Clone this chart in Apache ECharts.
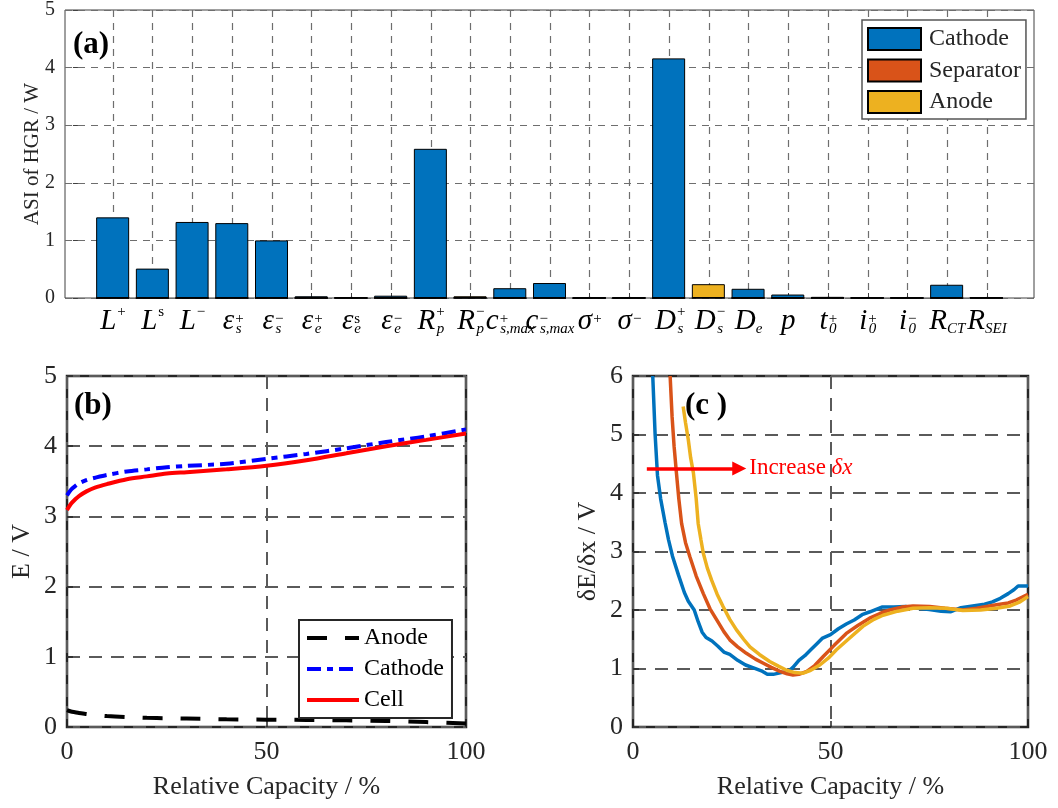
<!DOCTYPE html>
<html>
<head>
<meta charset="utf-8">
<title>ASI of HGR / dE/dx</title>
<script src="https://cdn.jsdelivr.net/npm/echarts@6.0.0/dist/echarts.min.js"></script>
<style>
  html, body { margin: 0; padding: 0; background: #fff; }
  #chart { width: 1058px; height: 808px; }
</style>
</head>
<body>
<div id="chart"></div>
<script>
// (a) parameters: base symbol, superscript, subscript
const paramBase = ['L', 'L', 'L', 'ε', 'ε', 'ε', 'ε', 'ε', 'R', 'R', 'c', 'c', 'σ', 'σ', 'D', 'D', 'D', 'p', 't', 'i', 'i', 'R', 'R'];
const paramSup  = ['+', 's', '−', '+', '−', '+', 's', '−', '+', '−', '+', '−', '+', '−', '+', '−', '', '', '+', '+', '−', '', ''];
const paramSub  = ['', '', '', 's', 's', 'e', 'e', 'e', 'p', 'p', 's,max', 's,max', '', '', 's', 's', 'e', '', '0', '0', '0', 'CT', 'SEI'];

// ASI of HGR (W), stacked by domain
const cathodeASI   = [1.40, 0.51, 1.32, 1.30, 1.00, 0.03, 0.01, 0.04, 2.59, 0.01, 0.17, 0.26, 0.005, 0.005, 4.16, 0.02, 0.16, 0.06, 0.02, 0.005, 0.005, 0.23, 0.01];
const separatorASI = [0, 0, 0, 0, 0, 0, 0, 0, 0, 0, 0, 0, 0, 0, 0, 0, 0, 0, 0, 0, 0, 0, 0];
const anodeASI     = [0, 0, 0, 0, 0, 0, 0, 0, 0, 0.03, 0, 0, 0, 0, 0, 0.24, 0, 0, 0, 0, 0, 0, 0];

// (b) potentials vs relative capacity
const capacity  = [0, 1, 2, 3, 5, 7, 10, 15, 20, 25, 30, 40, 50, 60, 70, 80, 90, 100];
const anodeE    = [0.24, 0.22, 0.21, 0.20, 0.185, 0.17, 0.155, 0.14, 0.13, 0.125, 0.12, 0.11, 0.105, 0.10, 0.095, 0.085, 0.07, 0.05];
const cathodeE  = [3.30, 3.38, 3.43, 3.47, 3.52, 3.55, 3.59, 3.64, 3.67, 3.70, 3.72, 3.75, 3.82, 3.89, 3.97, 4.06, 4.14, 4.24];
const cellE     = [3.09, 3.18, 3.24, 3.29, 3.36, 3.41, 3.46, 3.53, 3.57, 3.61, 3.63, 3.67, 3.72, 3.80, 3.90, 4.00, 4.09, 4.18];

// (c) dE/dx for three step sizes [capacity %, V]
const slopeDx1 = [[5.0, 6.0], [5.6, 5.0], [6.2, 4.3], [7.0, 3.9], [8.1, 3.5], [9.0, 3.2], [10.0, 2.92], [11.5, 2.6], [13.0, 2.3], [14.0, 2.15],
  [15.5, 2.0], [16.5, 1.8], [17.5, 1.62], [18.5, 1.53], [20.0, 1.47], [21.5, 1.38], [23.0, 1.28], [24.5, 1.24], [26.5, 1.14], [28.5, 1.06],
  [30.5, 1.01], [32.5, 0.96], [34.0, 0.9], [35.5, 0.9], [37.5, 0.93], [39.5, 0.96], [40.5, 1.02], [42.0, 1.14], [43.5, 1.22], [45.0, 1.32],
  [46.5, 1.42], [48.0, 1.52], [50.0, 1.58], [52.0, 1.68], [54.0, 1.76], [56.0, 1.83], [58.0, 1.92], [60.0, 1.97], [63.0, 2.05], [66.0, 2.05],
  [69.0, 2.06], [72.0, 2.03], [75.0, 2.01], [78.0, 1.98], [80.5, 1.97], [83.0, 2.04], [86.0, 2.07], [89.0, 2.1], [91.0, 2.14], [93.0, 2.2],
  [95.0, 2.28], [96.5, 2.35], [97.5, 2.41], [100, 2.41]];
const slopeDx2 = [[9.4, 6.0], [9.9, 5.3], [10.4, 4.8], [11.0, 4.34], [11.6, 3.9], [12.3, 3.48], [13.3, 3.15], [14.4, 2.91], [16.0, 2.58], [17.8, 2.28],
  [19.5, 2.02], [21.2, 1.83], [23.0, 1.63], [24.5, 1.49], [26.5, 1.37], [28.7, 1.26], [31.0, 1.16], [33.0, 1.09], [35.0, 1.02], [37.2, 0.95],
  [39.0, 0.91], [40.5, 0.89], [42.0, 0.9], [44.0, 0.95], [46.0, 1.05], [48.1, 1.2], [51.0, 1.4], [54.0, 1.6], [57.0, 1.74], [59.9, 1.86],
  [62.5, 1.94], [65.0, 2.0], [68.0, 2.05], [70.9, 2.07], [75.1, 2.06], [79.0, 2.03], [83.5, 2.0], [87.0, 2.03], [92.0, 2.09], [95.0, 2.12],
  [97.0, 2.17], [100, 2.27]];
const slopeDx3 = [[12.7, 5.48], [13.3, 5.2], [14.0, 4.91], [14.6, 4.6], [15.3, 4.34], [16.0, 3.9], [16.5, 3.48], [17.2, 3.2], [17.8, 2.97], [18.8, 2.72],
  [19.9, 2.51], [21.3, 2.27], [22.8, 2.06], [24.5, 1.84], [26.2, 1.66], [28.0, 1.5], [29.6, 1.37], [32.0, 1.24], [34.6, 1.12], [36.8, 1.04],
  [38.9, 0.97], [41.0, 0.93], [43.1, 0.92], [45.0, 0.97], [47.3, 1.06], [49.5, 1.18], [51.5, 1.32], [54.5, 1.5], [58.2, 1.72], [61.0, 1.84],
  [63.3, 1.91], [67.0, 1.98], [70.9, 2.03], [75.0, 2.04], [79.3, 2.03], [83.5, 1.99], [88.0, 2.0], [92.0, 2.03], [95.5, 2.07], [98.0, 2.14],
  [100, 2.23]];

// arrow "Increase dx" in (c), data coords
const arrowFrom = [3.5, 4.42];
const arrowTo = [26.9, 4.42];

const serif = '"Liberation Serif", "Times New Roman", serif';
const ink = '#262626';

// build rich label text for each parameter
function paramLabel(i) {
  const base = paramBase[i], sup = paramSup[i], sub = paramSub[i];
  const lower = base === base.toLowerCase();
  let s = '{b|' + base + '}';
  if (sup) s += '{' + (lower ? 'pl' : 'pu') + '|' + sup + '}';
  if (sub) {
    let cls = 'sb';
    if (sup) cls = sup === 's' ? 'sc' : 'sn';
    s += '{' + cls + '|' + sub + '}';
  }
  return s;
}

const bigLabelRich = {
  b:  { fontFamily: serif, fontStyle: 'italic', fontSize: 29, lineHeight: 34, color: '#000' },
  pu: { fontFamily: serif, fontSize: 15, lineHeight: 15, verticalAlign: 'top', padding: [1, 0, 0, 1], color: '#000' },
  pl: { fontFamily: serif, fontSize: 15, lineHeight: 15, verticalAlign: 'top', padding: [8, 0, 0, 1], color: '#000' },
  sb: { fontFamily: serif, fontStyle: 'italic', fontSize: 15, lineHeight: 15, verticalAlign: 'bottom', padding: [0, 0, 1, 0], color: '#000' },
  sn: { fontFamily: serif, fontStyle: 'italic', fontSize: 15, lineHeight: 15, verticalAlign: 'bottom', padding: [0, 0, 1, -8], color: '#000' },
  sc: { fontFamily: serif, fontStyle: 'italic', fontSize: 15, lineHeight: 15, verticalAlign: 'bottom', padding: [0, 0, 1, -6], color: '#000' }
};

const gridDashA = { show: true, lineStyle: { color: '#6e6e6e', width: 1.2, type: [7, 6] } };
const gridDashB = { show: true, lineStyle: { color: '#5a5a5a', width: 2, type: [13, 9] } };
const tickIn = { show: true, inside: true, length: 6, lineStyle: { color: ink, width: 1.5 } };

const myChart = echarts.init(document.getElementById('chart'), null, { renderer: 'canvas' });

const option = {
  animation: false,
  backgroundColor: '#fff',
  textStyle: { fontFamily: serif },
  grid: [
    { left: 65, top: 10, width: 969, height: 288, show: true, borderColor: '#404040', borderWidth: 1 },
    { left: 113, top: 10, width: 874, height: 288 },
    { left: 67, top: 376, width: 399, height: 351, show: true, borderColor: ink, borderWidth: 2.5 },
    { left: 633, top: 376, width: 395, height: 351, show: true, borderColor: ink, borderWidth: 2.5 }
  ],
  xAxis: [
    { gridIndex: 0, type: 'value', min: -0.2, max: 24.2, show: false },
    {
      gridIndex: 1, type: 'value', min: 1, max: 23, interval: 1,
      axisLine: { show: false },
      axisTick: { show: true, inside: true, length: 5, lineStyle: { color: '#404040' } },
      axisLabel: {
        margin: 6,
        formatter: function (v) { return paramLabel(Math.round(v) - 1); },
        rich: bigLabelRich
      },
      splitLine: gridDashA
    },
    {
      gridIndex: 2, type: 'value', min: 0, max: 100, interval: 50,
      axisLine: { show: false }, axisTick: tickIn,
      axisLabel: { margin: 12, fontSize: 26, color: ink, fontFamily: serif },
      splitLine: gridDashB,
      name: 'Relative Capacity / %', nameLocation: 'middle', nameGap: 47, nameMoveOverlap: false,
      nameTextStyle: { fontSize: 26, color: ink, fontFamily: serif }
    },
    {
      gridIndex: 3, type: 'value', min: 0, max: 100, interval: 50,
      axisLine: { show: false }, axisTick: tickIn,
      axisLabel: { margin: 12, fontSize: 26, color: ink, fontFamily: serif },
      splitLine: gridDashB,
      name: 'Relative Capacity / %', nameLocation: 'middle', nameGap: 47, nameMoveOverlap: false,
      nameTextStyle: { fontSize: 26, color: ink, fontFamily: serif }
    }
  ],
  yAxis: [
    {
      gridIndex: 0, type: 'value', min: 0, max: 5, interval: 1,
      axisLine: { show: false },
      axisTick: { show: true, inside: true, length: 5, lineStyle: { color: '#404040' } },
      axisLabel: { margin: 10, fontSize: 20, color: ink, fontFamily: serif },
      splitLine: gridDashA,
      name: 'ASI of HGR / W', nameLocation: 'middle', nameGap: 22, nameMoveOverlap: false,
      nameTextStyle: { fontSize: 21, color: ink, fontFamily: serif }
    },
    { gridIndex: 1, type: 'value', min: 0, max: 5, show: false },
    {
      gridIndex: 2, type: 'value', min: 0, max: 5, interval: 1,
      axisLine: { show: false }, axisTick: tickIn,
      axisLabel: { margin: 10, fontSize: 26, color: ink, fontFamily: serif },
      splitLine: gridDashB,
      name: 'E / V', nameLocation: 'middle', nameGap: 32, nameMoveOverlap: false,
      nameTextStyle: { fontSize: 26, color: ink, fontFamily: serif }
    },
    {
      gridIndex: 3, type: 'value', min: 0, max: 6, interval: 1,
      axisLine: { show: false }, axisTick: tickIn,
      axisLabel: { margin: 10, fontSize: 26, color: ink, fontFamily: serif },
      splitLine: gridDashB,
      name: 'δE/δx / V', nameLocation: 'middle', nameGap: 32, nameMoveOverlap: false,
      nameTextStyle: { fontSize: 26, color: ink, fontFamily: serif }
    }
  ],
  legend: [
    {
      data: ['Cathode', 'Separator', 'Anode'],
      orient: 'vertical', left: 862, top: 20,
      itemWidth: 53, itemHeight: 22, itemGap: 7.5,
      padding: [7, 5, 5, 5],
      backgroundColor: '#fff', borderColor: '#555', borderWidth: 1.5, borderRadius: 0,
      icon: 'rect',
      textStyle: { fontSize: 24, color: ink, fontFamily: serif, padding: [0, 0, 0, 3] },
      selectedMode: false
    },
    {
      data: ['Anode potential', 'Cathode potential', 'Cell potential'],
      formatter: function (n) { return n.split(' ')[0]; },
      orient: 'vertical', left: 299, top: 620,
      itemWidth: 52, itemHeight: 22, itemGap: 7,
      padding: [6, 8, 6, 6],
      backgroundColor: '#fff', borderColor: ink, borderWidth: 2, borderRadius: 0,
      itemStyle: { opacity: 0 },
      lineStyle: { width: 4 },
      textStyle: { fontSize: 24, color: '#000', fontFamily: serif },
      selectedMode: false
    }
  ],
  graphic: [
    { type: 'text', left: 73, top: 29, z: 100, style: { text: '(a)', font: 'bold 31px ' + serif, fill: '#000' } },
    { type: 'text', left: 74, top: 390, z: 100, style: { text: '(b)', font: 'bold 31px ' + serif, fill: '#000' } },
    { type: 'text', left: 685, top: 390, z: 100, style: { text: '(c )', font: 'bold 31px ' + serif, fill: '#000' } }
  ],
  series: [
    // (a) stacked bars
    {
      name: 'Cathode', type: 'bar', xAxisIndex: 0, yAxisIndex: 0, stack: 'asi', barWidth: 33,
      itemStyle: { color: '#0072BD', borderColor: '#000', borderWidth: 1 },
      data: cathodeASI.map(function (v, i) { return [i + 1, v]; })
    },
    {
      name: 'Separator', type: 'bar', xAxisIndex: 0, yAxisIndex: 0, stack: 'asi', barWidth: 33,
      itemStyle: { color: '#D95319', borderColor: '#000', borderWidth: 1 },
      data: separatorASI.map(function (v, i) { return [i + 1, v]; })
    },
    {
      name: 'Anode', type: 'bar', xAxisIndex: 0, yAxisIndex: 0, stack: 'asi', barWidth: 33,
      itemStyle: { color: '#EDB120', borderColor: '#000', borderWidth: 1 },
      data: anodeASI.map(function (v, i) { return [i + 1, v]; })
    },
    // (b) potentials
    {
      name: 'Anode potential', type: 'line', xAxisIndex: 2, yAxisIndex: 2,
      showSymbol: false, symbol: 'none', smooth: 0.3,
      lineStyle: { color: '#000', width: 4, type: [20, 18] },
      itemStyle: { color: '#000' },
      data: capacity.map(function (x, i) { return [x, anodeE[i]]; })
    },
    {
      name: 'Cathode potential', type: 'line', xAxisIndex: 2, yAxisIndex: 2,
      showSymbol: false, symbol: 'none', smooth: 0.3,
      lineStyle: { color: '#0000FF', width: 4, type: [14, 6, 6, 6] },
      itemStyle: { color: '#0000FF' },
      data: capacity.map(function (x, i) { return [x, cathodeE[i]]; })
    },
    {
      name: 'Cell potential', type: 'line', xAxisIndex: 2, yAxisIndex: 2,
      showSymbol: false, symbol: 'none', smooth: 0.3,
      lineStyle: { color: '#FF0000', width: 4 },
      itemStyle: { color: '#FF0000' },
      data: capacity.map(function (x, i) { return [x, cellE[i]]; })
    },
    // (c) dE/dx curves
    {
      name: 'dx1', type: 'line', xAxisIndex: 3, yAxisIndex: 3, showSymbol: false, symbol: 'none',
      lineStyle: { color: '#0072BD', width: 3.5 }, data: slopeDx1
    },
    {
      name: 'dx2', type: 'line', xAxisIndex: 3, yAxisIndex: 3, showSymbol: false, symbol: 'none',
      lineStyle: { color: '#D95319', width: 3.5 }, data: slopeDx2
    },
    {
      name: 'dx3', type: 'line', xAxisIndex: 3, yAxisIndex: 3, showSymbol: false, symbol: 'none',
      lineStyle: { color: '#EDB120', width: 3.5 }, data: slopeDx3,
      markLine: {
        silent: true,
        symbol: ['none', 'triangle'],
        symbolSize: 14,
        lineStyle: { color: '#FF0000', width: 3.5, type: 'solid' },
        label: {
          show: true, position: 'end', distance: 10,
          formatter: '{n|Increase }{d|δx}',
          rich: {
            n: { fontFamily: serif, fontSize: 23, color: '#FF0000' },
            d: { fontFamily: serif, fontSize: 23, fontStyle: 'italic', color: '#FF0000' }
          }
        },
        data: [[{ coord: arrowFrom }, { coord: arrowTo }]]
      }
    }
  ]
};

myChart.setOption(option);
</script>
</body>
</html>
